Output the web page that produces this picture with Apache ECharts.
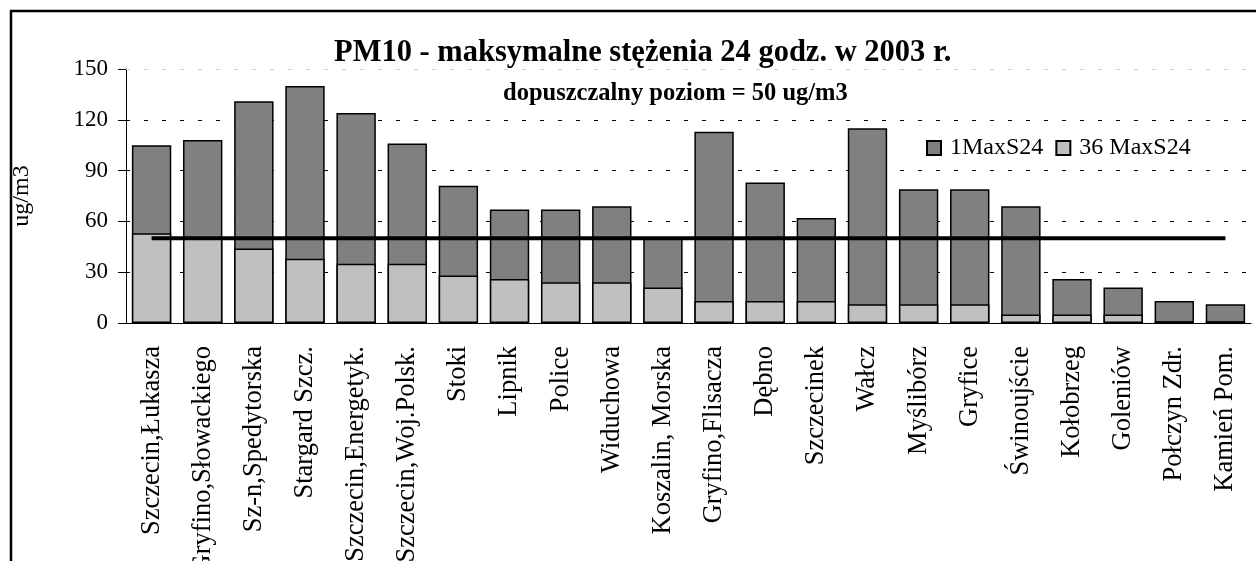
<!DOCTYPE html>
<html>
<head>
<meta charset="utf-8">
<script src="https://cdn.jsdelivr.net/npm/echarts@6/dist/echarts.min.js"></script>
<style>
  html, body { margin: 0; padding: 0; background: #fff; }
  #main { width: 1256px; height: 561px; }
</style>
</head>
<body>
<div id="main"></div>
<script>
var stations = ['Szczecin,Łukasza', 'Gryfino,Słowackiego', 'Sz-n,Spedytorska', 'Stargard Szcz.',
  'Szczecin,Energetyk.', 'Szczecin,Woj.Polsk.', 'Stoki', 'Lipnik', 'Police', 'Widuchowa',
  'Koszalin, Morska', 'Gryfino,Flisacza', 'Dębno', 'Szczecinek', 'Wałcz', 'Myślibórz',
  'Gryfice', 'Świnoujście', 'Kołobrzeg', 'Goleniów', 'Połczyn Zdr.', 'Kamień Pom.']
var max1 = [105, 108, 131, 140, 124, 106, 81, 67, 67, 69, 50, 113, 83, 62, 115, 79, 79, 69, 26, 21, 13, 11]
var max36 = [53, 50, 44, 38, 35, 35, 28, 26, 24, 24, 21, 13, 13, 13, 11, 11, 11, 5, 5, 5, 1, 1]
var limit = [50, 50, 50, 50, 50, 50, 50, 50, 50, 50, 50, 50, 50, 50, 50, 50, 50, 50, 50, 50, 50, 50]
var yTicks = [0, 30, 60, 90, 120, 150]

var font = 'Liberation Serif'
var chartDom = document.getElementById('main')
var myChart = echarts.init(chartDom)
var option = {
  animation: false,
  textStyle: { fontFamily: font, color: '#000' },
  graphic: [{
    type: 'rect',
    shape: { x: 11, y: 11, width: 1300, height: 600 },
    style: { fill: 'none', stroke: '#000', lineWidth: 2.5 },
    silent: true
  }],
  title: [
    {
      text: 'PM10 - maksymalne stężenia 24 godz. w 2003 r.',
      left: 329, top: 33,
      textStyle: { fontFamily: font, fontSize: 30.5, fontWeight: 'bold', color: '#000' }
    },
    {
      text: 'dopuszczalny poziom = 50 ug/m3',
      left: 498, top: 76,
      textStyle: { fontFamily: font, fontSize: 24.5, fontWeight: 'bold', color: '#000' }
    }
  ],
  legend: {
    data: ['1MaxS24', '36 MaxS24'],
    icon: 'rect',
    left: 921, top: 131,
    itemWidth: 14, itemHeight: 14, itemGap: 12,
    textStyle: { fontFamily: font, fontSize: 24, color: '#000', padding: [0, 0, 0, 4] }
  },
  grid: { left: 126, right: 5, top: 69, bottom: 238, outerBoundsMode: 'none', containLabel: false },
  xAxis: {
    type: 'category',
    data: stations,
    axisLine: { lineStyle: { color: '#000', width: 1 } },
    axisTick: { length: 8, lineStyle: { color: '#000' } },
    axisLabel: { interval: 0, rotate: 90, margin: 23, fontFamily: font, fontSize: 26.5, color: '#000' }
  },
  yAxis: {
    type: 'value',
    min: yTicks[0], max: yTicks[yTicks.length - 1], interval: 30,
    name: 'ug/m3',
    nameLocation: 'middle',
    nameGap: 92,
    nameTextStyle: { fontFamily: font, fontSize: 24, color: '#000' },
    axisLine: { show: true, lineStyle: { color: '#000', width: 1 } },
    axisTick: { show: true, length: 8, lineStyle: { color: '#000' } },
    axisLabel: { margin: 18, fontFamily: font, fontSize: 23, color: '#000' },
    splitLine: {
      showMaxLine: false,
      lineStyle: { type: [4, 14], color: '#000', width: 1 }
    }
  },
  series: [
    {
      name: '1MaxS24',
      type: 'bar',
      data: max1,
      barGap: '-100%',
      barCategoryGap: '23%',
      itemStyle: { color: '#808080', borderColor: '#000', borderWidth: 1.5 },
      markLine: {
        silent: true,
        symbol: 'none',
        label: { show: false },
        lineStyle: { type: [4, 14], color: '#d0d0d0', width: 1 },
        data: [{ yAxis: yTicks[yTicks.length - 1] }]
      }
    },
    {
      name: '36 MaxS24',
      type: 'bar',
      data: max36,
      itemStyle: { color: '#c0c0c0', borderColor: '#000', borderWidth: 1.5 }
    },
    {
      name: 'limit',
      type: 'line',
      data: limit,
      symbol: 'none',
      z: 5,
      lineStyle: { color: '#000', width: 4 }
    }
  ]
}
option && myChart.setOption(option)
</script>
</body>
</html>
